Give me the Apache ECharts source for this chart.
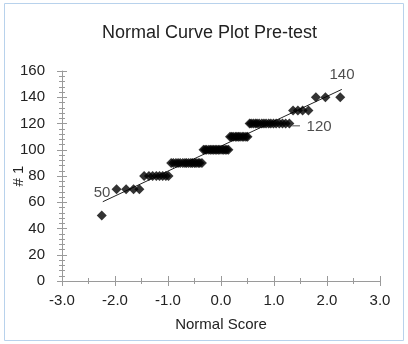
<!DOCTYPE html>
<html>
<head>
<meta charset="utf-8">
<script src="https://cdn.jsdelivr.net/npm/echarts@6/dist/echarts.min.js"></script>
<style>
  html, body { margin: 0; padding: 0; background: #fff; }
  #chart { width: 408px; height: 344px; }
</style>
</head>
<body>
<div id="chart"></div>
<script>
// scores, grouped by the value they belong to
const x50 = [-2.25]
const x70 = [-1.97, -1.79, -1.65, -1.54]
const x80 = [-1.45, -1.36, -1.29, -1.22, -1.16, -1.10, -1.04, -0.99]
const x90 = [-0.94, -0.90, -0.85, -0.81, -0.77, -0.72, -0.68, -0.65, -0.61, -0.57, -0.54, -0.50, -0.47, -0.43, -0.40, -0.36]
const x100 = [-0.33, -0.30, -0.27, -0.23, -0.20, -0.17, -0.14, -0.11, -0.08, -0.05, -0.02, 0.02, 0.05, 0.08, 0.11, 0.14]
const x110 = [0.17, 0.20, 0.23, 0.27, 0.30, 0.33, 0.36, 0.40, 0.43, 0.47, 0.50]
const x120 = [0.54, 0.57, 0.61, 0.65, 0.68, 0.72, 0.77, 0.81, 0.85, 0.90, 0.94, 0.99, 1.04, 1.10, 1.16, 1.22, 1.29]
const x130 = [1.36, 1.45, 1.54, 1.65]
const x140 = [1.79, 1.97, 2.25]
const groupValues = [50, 70, 80, 90, 100, 110, 120, 130, 140]
const groupScores = [x50, x70, x80, x90, x100, x110, x120, x130, x140]

// fitted line end points
const fitX = [-2.23, 2.28]
const fitY = [60.4, 146]

// text labels on the plot
const noteText = ['50', '120', '140']
const noteX = [-2.245, 1.85, 2.283]
const noteY = [67, 117.3, 157]
const leaderX = [1.34, 1.49]
const leaderY = [118.3, 118.3]

const xTicks = [-3, -2, -1, 0, 1, 2, 3]

const points = []
groupScores.forEach((xs, i) => {
  xs.forEach(x => points.push([x, groupValues[i]]))
})

const font = 'Liberation Sans, Arial, sans-serif'
const axisGray = '#9a9a9a'

const myChart = echarts.init(document.getElementById('chart'))
myChart.setOption({
  animation: false,
  title: {
    text: 'Normal Curve Plot Pre-test',
    left: 97,
    top: 19,
    textStyle: { fontFamily: font, fontSize: 18, fontWeight: 'normal', color: '#222' }
  },
  graphic: [{
    type: 'rect',
    shape: { x: 4.5, y: 3.5, width: 399, height: 337 },
    style: { fill: 'none', stroke: '#b8d2ec', lineWidth: 1 },
    silent: true
  }],
  grid: { left: 62, right: 28, top: 71, bottom: 63, containLabel: false, outerBoundsMode: 'none' },
  xAxis: [{
    type: 'value',
    min: -3, max: 3, interval: 1,
    name: 'Normal Score',
    nameLocation: 'middle',
    nameGap: 36,
    nameMoveOverlap: false,
    nameTextStyle: { fontFamily: font, fontSize: 15, color: '#222' },
    axisLine: { onZero: false, lineStyle: { color: axisGray } },
    axisTick: { length: 5, lineStyle: { color: axisGray } },
    minorTick: { show: true, splitNumber: 2, length: 3, lineStyle: { color: axisGray } },
    axisLabel: {
      margin: 12, fontFamily: font, fontSize: 15, color: '#222',
      formatter: v => xTicks.includes(v) ? v.toFixed(1) : ''
    },
    splitLine: { show: false }
  }, {
    type: 'value',
    position: 'bottom',
    min: -3, max: 3, interval: 1,
    axisLine: { show: false, onZero: false },
    axisTick: { inside: true, length: 5, lineStyle: { color: axisGray } },
    minorTick: { show: true, splitNumber: 2, length: 3, lineStyle: { color: axisGray } },
    axisLabel: { show: false },
    splitLine: { show: false }
  }],
  yAxis: [{
    type: 'value',
    min: 0, max: 160, interval: 20,
    name: '# 1',
    nameLocation: 'middle',
    nameGap: 36,
    nameMoveOverlap: false,
    nameTextStyle: { fontFamily: font, fontSize: 15, color: '#222' },
    axisLine: { show: true, onZero: false, lineStyle: { color: axisGray } },
    axisTick: { show: true, length: 5, lineStyle: { color: axisGray } },
    minorTick: { show: true, splitNumber: 5, length: 3, lineStyle: { color: axisGray } },
    axisLabel: { margin: 17, fontFamily: font, fontSize: 15, color: '#222' },
    splitLine: { show: false }
  }, {
    type: 'value',
    position: 'left',
    min: 0, max: 160, interval: 20,
    axisLine: { show: false, onZero: false },
    axisTick: { show: true, inside: true, length: 5, lineStyle: { color: axisGray } },
    minorTick: { show: true, splitNumber: 5, length: 3, lineStyle: { color: axisGray } },
    axisLabel: { show: false },
    splitLine: { show: false }
  }],
  series: [
    {
      type: 'line',
      data: fitX.map((x, i) => [x, fitY[i]]),
      symbol: 'none',
      lineStyle: { color: '#222', width: 1 },
      z: 1
    },
    {
      type: 'scatter',
      data: points,
      symbol: 'diamond',
      symbolSize: 10,
      itemStyle: { color: '#000' },
      z: 2
    },
    {
      type: 'line',
      data: leaderX.map((x, i) => [x, leaderY[i]]),
      symbol: 'none',
      lineStyle: { color: '#888', width: 1.5 }
    },
    {
      type: 'scatter',
      data: noteX.map((x, i) => ({ value: [x, noteY[i]], name: noteText[i] })),
      symbolSize: 0,
      label: {
        show: true, position: 'inside', formatter: p => p.name,
        fontFamily: font, fontSize: 15, color: '#222'
      },
      z: 3
    }
  ]
})
</script>
</body>
</html>
